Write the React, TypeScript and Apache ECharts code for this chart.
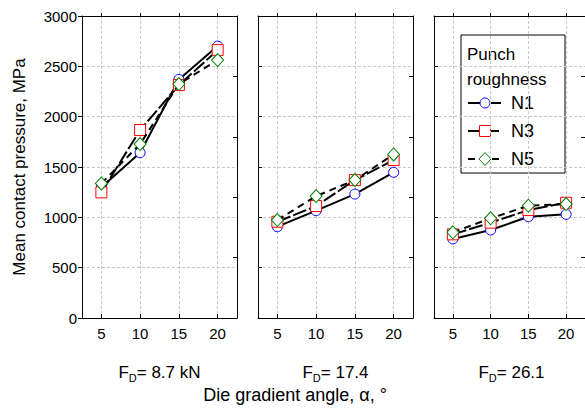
import React, { useEffect, useRef } from "react";
import * as echarts from "echarts";

const xValues = [5, 10, 15, 20];
const panelForces = ["8.7 kN", "17.4", "26.1"];
const seriesNames = ["N1", "N3", "N5"];
// values per panel (F_D = 8.7, 17.4, 26.1)
const n1Values = [
  [1300, 1642, 2370, 2701],
  [907, 1066, 1231, 1447],
  [785, 874, 1006, 1030],
];
const n3Values = [
  [1248, 1867, 2314, 2661],
  [956, 1112, 1370, 1569],
  [831, 947, 1072, 1145],
];
const n5Values = [
  [1337, 1728, 2324, 2562],
  [973, 1211, 1370, 1625],
  [851, 990, 1115, 1132],
];

const FONT = "'Liberation Sans', Arial, sans-serif";
const markerColors = ["#0000ff", "#ff0000", "#008000"];
const symbols = ["circle", "rect", "diamond"];
const symbolSizes: any[] = [10, 11, [12, 13]];
const lineDashes: any[] = ["solid", [14, 3], [7, 5]];
const gridLefts = [82, 258, 434];
const GRID_W = 155;
const GRID_TOP = 16;
const GRID_H = 302;

export default function App() {
  const ref = useRef<HTMLDivElement>(null);
  useEffect(() => {
    if (!ref.current) return;
    const chart = echarts.init(ref.current, null, { renderer: "svg" });
    const allValues = [n1Values, n3Values, n5Values];
    const grids: any[] = [];
    const xAxes: any[] = [];
    const yAxes: any[] = [];
    const series: any[] = [];
    const graphics: any[] = [];
    const axisLine = { show: true, onZero: false, lineStyle: { color: "#000", width: 1 } };
    const split = { show: true, lineStyle: { color: "#c8c8c8", type: [3, 2], width: 1 } };
    gridLefts.forEach((left, i) => {
      grids.push({ left, top: GRID_TOP, width: GRID_W, height: GRID_H, containLabel: false });
      xAxes.push({
        type: "value", gridIndex: i, position: "bottom", min: 2.5, max: 22.5,
        axisLine,
        axisTick: { show: true, inside: true, length: 4, customValues: xValues, lineStyle: { color: "#000" } },
        axisLabel: { show: true, customValues: xValues, fontSize: 15, color: "#000", fontFamily: FONT, margin: 8, formatter: (v: number) => String(v) },
        splitLine: split,
      });
      xAxes.push({
        type: "value", gridIndex: i, position: "top", min: 2.5, max: 22.5,
        axisLine,
        axisTick: { show: true, inside: false, length: 3, customValues: xValues, lineStyle: { color: "#000" } },
        axisLabel: { show: false },
        splitLine: { show: false },
      });
      yAxes.push({
        type: "value", gridIndex: i, position: "left", min: 0, max: 3000, interval: 500,
        axisLine,
        axisTick: { show: true, inside: i !== 0, length: 4, lineStyle: { color: "#000" } },
        axisLabel: { show: i === 0, fontSize: 15, color: "#000", fontFamily: FONT, margin: 5, formatter: (v: number) => String(v) },
        splitLine: split,
      });
      yAxes.push({
        type: "value", gridIndex: i, position: "right", min: 0, max: 3000, interval: 600,
        axisLine,
        axisTick: { show: true, inside: true, length: 4, lineStyle: { color: "#000" } },
        axisLabel: { show: false },
        splitLine: { show: false },
      });
      allValues.forEach((vals, k) => {
        series.push({
          type: "line",
          name: seriesNames[k],
          xAxisIndex: 2 * i,
          yAxisIndex: 2 * i,
          data: xValues.map((x, j) => [x, vals[i][j]]),
          symbol: symbols[k],
          symbolSize: symbolSizes[k],
          showSymbol: true,
          lineStyle: { color: "#000", width: 2, type: lineDashes[k] },
          itemStyle: { color: "#fff", borderColor: markerColors[k], borderWidth: 1 },
          z: 2 + k,
        });
      });
      graphics.push({
        type: "text",
        x: left + GRID_W / 2,
        y: 372,
        style: {
          text: `{a|F}{b|D}{a|= ${panelForces[i]}}`,
          align: "center",
          verticalAlign: "middle",
          fill: "#000",
          rich: {
            a: { fontSize: 17, fontFamily: FONT, lineHeight: 22, fill: "#000" },
            b: { fontSize: 11, fontFamily: FONT, lineHeight: 12, verticalAlign: "bottom", fill: "#000" },
          },
        },
      });
    });

    graphics.push({
      type: "text", x: 19, y: 167, rotation: Math.PI / 2,
      style: { text: "Mean contact pressure, MPa", fontSize: 17, fontFamily: FONT, fill: "#000", align: "center", verticalAlign: "middle" },
    });
    graphics.push({
      type: "text", x: 295, y: 395,
      style: { text: "Die gradient angle, \u03b1, \u00b0", fontSize: 18, fontFamily: FONT, fill: "#000", align: "center", verticalAlign: "middle" },
    });

    // legend
    const legend: any[] = [
      { type: "rect", shape: { x: 461, y: 35, width: 104, height: 138 }, style: { fill: "#fff", stroke: "#000", lineWidth: 1 } },
      { type: "text", x: 467, y: 54, style: { text: "Punch", fontSize: 17, fontFamily: FONT, fill: "#000", verticalAlign: "middle" } },
      { type: "text", x: 467, y: 79, style: { text: "roughness", fontSize: 17, fontFamily: FONT, fill: "#000", verticalAlign: "middle" } },
    ];
    const ly = [103, 131, 159];
    seriesNames.forEach((nm, k) => {
      const y = ly[k];
      legend.push({
        type: "line", shape: { x1: 468, y1: y, x2: 501, y2: y },
        style: { stroke: "#000", lineWidth: 2, lineDash: k === 0 ? null : lineDashes[k] },
      });
      if (k === 0) {
        legend.push({ type: "circle", shape: { cx: 485, cy: y, r: 5 }, style: { fill: "#fff", stroke: markerColors[k], lineWidth: 1 } });
      } else if (k === 1) {
        legend.push({ type: "rect", shape: { x: 479.5, y: y - 5.5, width: 11, height: 11 }, style: { fill: "#fff", stroke: markerColors[k], lineWidth: 1 } });
      } else {
        legend.push({ type: "polygon", shape: { points: [[485, y - 6.5], [491, y], [485, y + 6.5], [479, y]] }, style: { fill: "#fff", stroke: markerColors[k], lineWidth: 1 } });
      }
      legend.push({ type: "text", x: 511, y, style: { text: nm, fontSize: 18, fontFamily: FONT, fill: "#000", verticalAlign: "middle" } });
    });
    graphics.push({ type: "group", z: 100, children: legend });

    chart.setOption({
      animation: false,
      backgroundColor: "#fff",
      textStyle: { fontFamily: FONT },
      grid: grids,
      xAxis: xAxes,
      yAxis: yAxes,
      series,
      graphic: graphics,
    });
    return () => chart.dispose();
  }, []);
  return (
    <div
      ref={ref}
      style={{ position: "fixed", left: 0, top: 0, width: 585, height: 416, background: "#fff" }}
    />
  );
}
